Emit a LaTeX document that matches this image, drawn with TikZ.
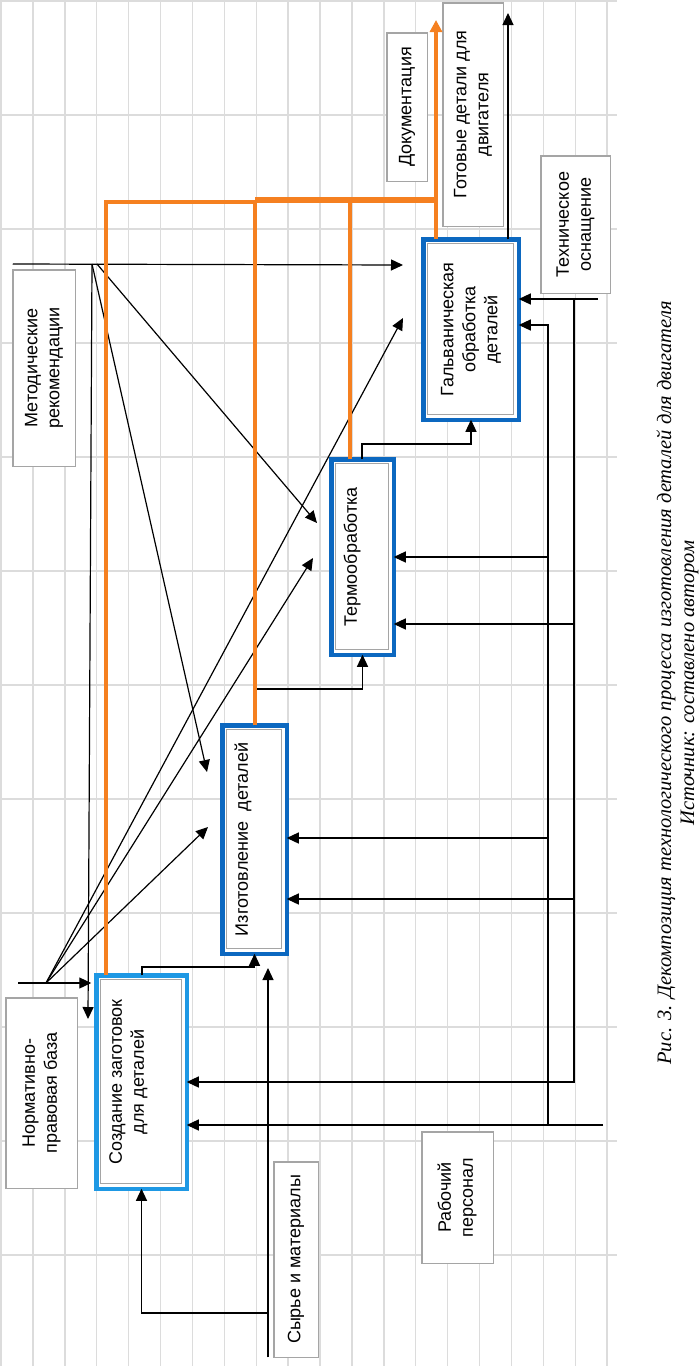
\documentclass[tikz,border=0pt]{standalone}
\usepackage{fontspec}
\setmainfont{Liberation Sans}
\newfontfamily\capfont{Liberation Serif}
\usetikzlibrary{arrows.meta}
\definecolor{gridc}{RGB}{220,220,220}
\definecolor{orng}{RGB}{245,128,32}
\definecolor{dblue}{RGB}{12,104,192}
\definecolor{lblue}{RGB}{30,152,228}
\definecolor{boxgray}{RGB}{165,165,165}
\newcommand{\vtext}[2][0pt]{\rotatebox{90}{\raisebox{#1}[\height][\depth]{\begin{tabular}{@{}c@{}}#2\end{tabular}}}}
\begin{document}
\begin{tikzpicture}[x=1pt,y=-1pt,
  every node/.style={font=\fontsize{18}{22}\selectfont},
  gridline/.style={draw=gridc, line width=1.4pt},
  lbox/.style={draw=boxgray, line width=1.5pt, fill=white, inner sep=0pt, outer sep=0pt},
  pbox/.style={draw=#1, line width=4.5pt, fill=white, inner sep=0pt, outer sep=0pt,
     path picture={\draw[boxgray,line width=1.3pt] ([shift={(4pt,-4pt)}]path picture bounding box.north west) rectangle ([shift={(-5pt,5pt)}]path picture bounding box.south east);}},
  conn/.style={draw=black, line width=1.2pt},
  arr/.style={conn, -{Triangle[length=12pt,width=11pt]}},
  oline/.style={draw=orng, line width=4pt},
  oarr/.style={oline, -{Triangle[length=12pt,width=12pt]}},
]
\useasboundingbox (0,0) rectangle (699,1366);
\fill[white] (0,0) rectangle (699,1366);
% grid
\foreach \k in {0,...,19}{\draw[gridline] ({1+31.9*\k},0) -- ({1+31.9*\k},1366);}
\foreach \k in {0,...,11}{\draw[gridline] (0,{1+114*\k}) -- (617,{1+114*\k});}

% label boxes
\node[lbox, minimum width=62.5pt, minimum height=196.5pt] (meth) at (44,368) {\vtext{Методические\\рекомендации}};
\node[lbox, minimum width=71.5pt, minimum height=190.5pt] (norm) at (41.5,1093) {\vtext{Нормативно-\\правовая база}};
\node[lbox, minimum width=40.5pt, minimum height=148.5pt] (doc) at (407,107) {\vtext{Документация}};
\node[lbox, minimum width=60.5pt, minimum height=223.5pt] (out) at (473,114.5) {\vtext{Готовые детали для\\двигателя}};
\node[lbox, minimum width=69.5pt, minimum height=137.5pt] (tech) at (575.5,224.5) {\vtext{Техническое\\оснащение}};
\node[lbox, minimum width=44.5pt, minimum height=195.5pt] (raw) at (296,1259.5) {\vtext{Сырье и материалы}};
\node[lbox, minimum width=71.5pt, minimum height=131.5pt] (staff) at (457.5,1197.5) {\vtext{Рабочий\\персонал}};

% process boxes
\node[pbox=lblue, minimum width=90.5pt, minimum height=213.5pt] (p1) at (141.5,1082) {\vtext[13pt]{Создание заготовок\\для деталей}};
\node[pbox=dblue, minimum width=64.5pt, minimum height=228.5pt] (p2) at (254.5,839.5) {\vtext[11pt]{Изготовление\ \ деталей}};
\node[pbox=dblue, minimum width=62.5pt, minimum height=195.5pt] (p3) at (362.5,557) {\vtext[10pt]{Термообработка}};
\node[pbox=dblue, minimum width=95.5pt, minimum height=180.5pt] (p4) at (471,329.5) {\vtext{Гальваническая\\обработка\\деталей}};

% coordinates
\coordinate (mA) at (92,264);
\coordinate (mB) at (97,264);
\coordinate (mT1) at (403,265);
\coordinate (mT2) at (88,1019);
\coordinate (mT3) at (207,772);
\coordinate (mT4) at (317,523);
\coordinate (nS) at (18,983);
\coordinate (nA) at (46,983);
\coordinate (nT1) at (208,827);
\coordinate (nT2) at (313,558);
\coordinate (nT3) at (403,318);
\coordinate (c12) at (142,967);
\coordinate (c23) at (255,689);
\coordinate (c34) at (362,444);
\coordinate (rT) at (268,968);
\coordinate (rB) at (268,1313);
\coordinate (oT) at (508,13);
\coordinate (tR) at (598,299);
\coordinate (v1) at (574,299);
\coordinate (m1) at (574,1082);
\coordinate (m2) at (574,899);
\coordinate (m3) at (574,624);
\coordinate (v2) at (548,325);
\coordinate (s2) at (548,838);
\coordinate (s3) at (548,557);
\coordinate (sR) at (603,1125);
\coordinate (oa) at (106,202);
\coordinate (ob) at (255,200);
\coordinate (oc) at (350,200);
\coordinate (dT) at (436,20);

% control arrows
\draw[arr] (meth.north west |- mA) -- (mT1);
\draw[arr] (mA) -- (mT2);
\draw[arr] (mA) -- (mT3);
\draw[arr] (mB) -- (mT4);
\draw[arr, shorten >=5pt] (nS) -- (p1.west |- nS);
\draw[arr] (nA) -- (nT1);
\draw[arr] (nA) -- (nT2);
\draw[arr] (nA) -- (nT3);

% flow between processes
\draw[arr] (p1.north -| c12) -- (c12) -| (p2.south);
\draw[arr] (p2.north -| c23) -- (c23) -| (p3.south);
\draw[arr] (p3.north -| c34) -- (c34) -| (p4.south);

% inputs
\draw[arr] (rT |- raw.south) -- (rT);
\draw[arr] (rB) -| (p1.south);

% output
\draw[arr] (p4.north -| oT) -- (oT);

% mechanisms
\draw[arr] (tR) -- (p4.east |- tR);
\draw[arr] (v1) -- (m1) -- (p1.east |- m1);
\draw[arr] (m2) -- (p2.east |- m2);
\draw[arr] (m3) -- (p3.east |- m3);
\draw[arr] (sR) -- (p1.east |- sR);
\draw[arr] (sR -| v2) -- (v2) -- (p4.east |- v2);
\draw[arr] (s2) -- (p2.east |- s2);
\draw[arr] (s3) -- (p3.east |- s3);

% documentation (orange)
\draw[oline] (p1.north -| oa) -- (oa) -- (oa -| ob);
\draw[oline, line width=5.5pt] (ob) -- (ob -| dT);
\draw[oline] (p2.north -| ob) -- (ob);
\draw[oline] (p3.north -| oc) -- (oc);
\draw[oarr] (p4.north -| dT) -- (dT);

% caption
\node[font=\capfont\itshape\fontsize{20.5}{23}\selectfont] (cap) at (678,683) {\vtext{Рис. 3. Декомпозиция технологического процесса изготовления деталей для двигателя\\Источник: составлено автором}};
\end{tikzpicture}
\end{document}
